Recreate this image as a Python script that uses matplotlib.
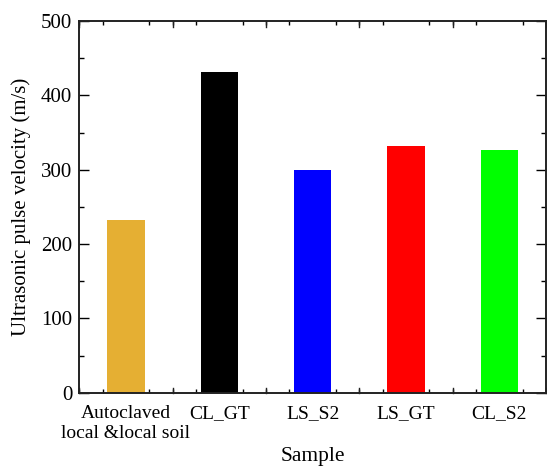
import numpy as np
import matplotlib as mpl
mpl.use('Agg')
import matplotlib.pyplot as plt
from matplotlib.ticker import MultipleLocator

samples = ['Autoclaved\nlocal &local soil', 'CL_GT', 'LS_S2', 'LS_GT', 'CL_S2']
velocity = [232, 432, 300, 332, 327]
colors = ['#E5AF33', '#000000', '#0000FF', '#FF0000', '#00FF00']

plt.rcParams['font.family'] = ['Liberation Serif', 'DejaVu Serif']
plt.rcParams['font.size'] = 15.5

fig = plt.figure(figsize=(5.47, 4.66), dpi=100)
ax = fig.add_axes([0.145, 0.157, 0.853, 0.798])

x = np.arange(1, len(samples) + 1)
ax.bar(x, velocity, width=0.4, color=colors, zorder=1)

ax.set_xlim(0.5, 5.5)
ax.set_ylim(0, 500)

# x: labels under bars, half and quarter ticks like the original
ax.set_xticks(x)
ax.set_xticklabels(samples, linespacing=1.2, fontsize=14)
ax.tick_params(axis='x', which='major', length=0, pad=9)
ax.xaxis.set_minor_locator(MultipleLocator(0.25))
ax.tick_params(axis='x', which='minor', direction='in', length=3,
               top=True, bottom=True, width=1)
for xv in np.arange(0.5, 5.6, 0.5):
    if xv % 1 != 0:
        ax.plot([xv, xv], [0, 500 * 0.012], color='#222222', lw=1, clip_on=False, zorder=3)
        ax.plot([xv, xv], [500, 500 * 0.984], color='#222222', lw=1, clip_on=False, zorder=3)

ax.yaxis.set_major_locator(MultipleLocator(100))
ax.yaxis.set_minor_locator(MultipleLocator(50))
ax.tick_params(axis='y', which='major', direction='in', length=7, width=1,
               left=True, right=True, pad=5, labelsize=15)
ax.tick_params(axis='y', which='minor', direction='in', length=3.5, width=1,
               left=True, right=True)

for s in ax.spines.values():
    s.set_linewidth(1.4)
    s.set_color('#222222')

ax.set_xlabel('Sample', labelpad=4)
ax.set_ylabel('Ultrasonic pulse velocity (m/s)', labelpad=7, fontsize=15)

fig.savefig('out.png', dpi=100)
